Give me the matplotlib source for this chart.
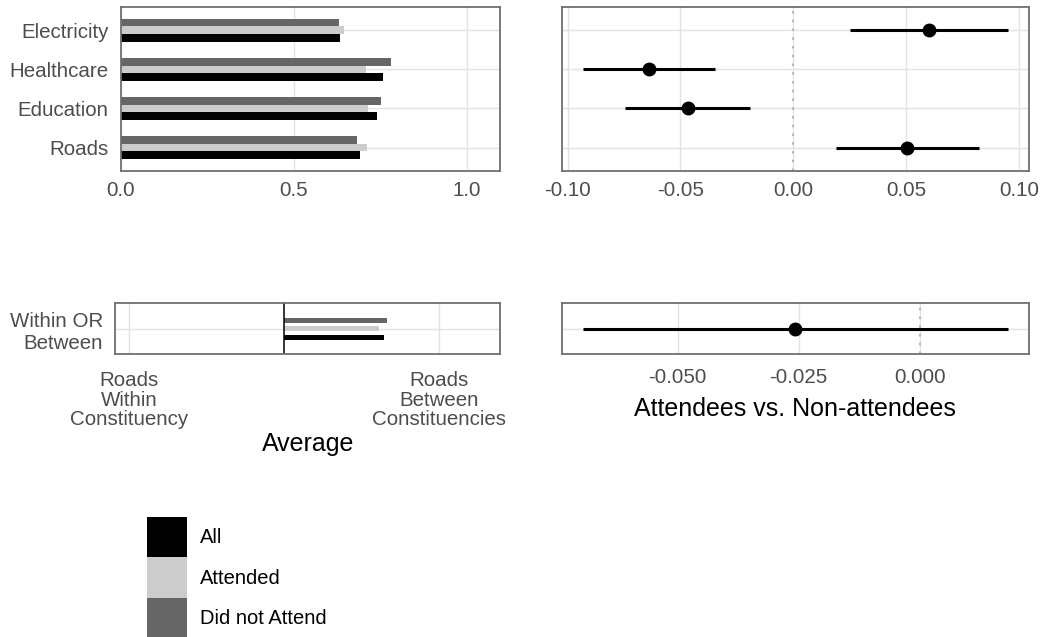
import matplotlib
matplotlib.use("Agg")
import matplotlib.pyplot as plt
from matplotlib.patches import Patch
import numpy as np

plt.rcParams['font.family'] = ['Liberation Sans', 'DejaVu Sans']
plt.rcParams['axes.unicode_minus'] = False

# data (top to bottom)
categories = ['Electricity', 'Healthcare', 'Education', 'Roads']
all_vals = [0.634, 0.756, 0.740, 0.691]
attended = [0.645, 0.709, 0.714, 0.711]
not_attended = [0.629, 0.779, 0.752, 0.681]

diff_est = [0.0602, -0.0640, -0.0467, 0.0504]
diff_lo = [0.0251, -0.0932, -0.0745, 0.0189]
diff_hi = [0.0951, -0.0346, -0.0192, 0.0822]

roads_labels = ['Roads\nWithin\nConstituency', 'Roads\nBetween\nConstituencies']
roads_row = 'Within OR\nBetween'
roads_all = 0.823
roads_attended = 0.807
roads_not = 0.833
roads_mid = 0.5

roads_diff = -0.0258
roads_diff_lo = -0.0695
roads_diff_hi = 0.0181

legend_labels = ['All', 'Attended', 'Did not Attend']
c_all, c_att, c_not = '#000000', '#CCCCCC', '#666666'

tick_col = '#4D4D4D'
grid_col = '#E3E3E3'
border_col = '#707070'
fs_tick = 14.8
fs_title = 18


def style(ax, xpad=7):
    for s in ax.spines.values():
        s.set_color(border_col)
        s.set_linewidth(1.3)
    ax.tick_params(length=0, colors=tick_col, labelsize=fs_tick)
    ax.tick_params(axis='y', pad=9)
    ax.tick_params(axis='x', pad=xpad)
    ax.grid(True, color=grid_col, lw=1.0)
    ax.set_axisbelow(True)


fig = plt.figure(figsize=(10.62, 6.37), dpi=100)

# top left: averages
ax1 = fig.add_axes([0.1139, 0.7316, 0.3569, 0.2575])
y = np.arange(len(categories))[::-1]
h = 0.2
ax1.barh(y + h, not_attended, height=h, color=c_not)
ax1.barh(y, attended, height=h, color=c_att)
ax1.barh(y - h, all_vals, height=h, color=c_all)
ax1.set_yticks(y)
ax1.set_yticklabels(categories)
ax1.set_xticks([0.0, 0.5, 1.0])
ax1.set_xticklabels(['0.0', '0.5', '1.0'])
ax1.set_xlim(0, 1.095)
ax1.set_ylim(-0.6, 3.6)
style(ax1)

# top right: differences
ax2 = fig.add_axes([0.5289, 0.7316, 0.4400, 0.2575])
est = np.array(diff_est)
ax2.axvline(0, color='#B8B8B8', ls=(0, (1.2, 3)), lw=1.5, zorder=1)
ax2.errorbar(est, y, xerr=[est - np.array(diff_lo), np.array(diff_hi) - est],
             fmt='o', color='black', ms=9, elinewidth=2.2, capsize=0, zorder=3)
ax2.set_yticks(y)
ax2.set_yticklabels([])
ax2.set_xticks([-0.10, -0.05, 0.0, 0.05, 0.10])
ax2.set_xticklabels(['-0.10', '-0.05', '0.00', '0.05', '0.10'])
ax2.set_xlim(-0.1026, 0.1045)
ax2.set_ylim(-0.6, 3.6)
style(ax2)

# bottom left: roads within or between
ax3 = fig.add_axes([0.1086, 0.4438, 0.3622, 0.0801])
hb = 0.11
ax3.barh([0.2], [roads_not - roads_mid], left=roads_mid, height=hb, color=c_not)
ax3.barh([0.0], [roads_attended - roads_mid], left=roads_mid, height=hb, color=c_att)
ax3.barh([-0.2], [roads_all - roads_mid], left=roads_mid, height=hb, color=c_all)
ax3.axvline(roads_mid, color='black', lw=1.1)
ax3.set_yticks([0])
ax3.set_yticklabels([roads_row], multialignment='right')
ax3.set_xticks([0, 1])
ax3.set_xticklabels(roads_labels, linespacing=1.05)
ax3.set_xlim(-0.045, 1.196)
ax3.set_ylim(-0.6, 0.6)
style(ax3, xpad=12)
ax3.set_xlabel('Average', fontsize=fs_title, labelpad=1.5)

# bottom right: roads difference
ax4 = fig.add_axes([0.5289, 0.4438, 0.4400, 0.0801])
ax4.axvline(0, color='#B8B8B8', ls=(0, (1.2, 3)), lw=1.5, zorder=1)
ax4.errorbar([roads_diff], [0],
             xerr=[[roads_diff - roads_diff_lo], [roads_diff_hi - roads_diff]],
             fmt='o', color='black', ms=9, elinewidth=2.2, capsize=0, zorder=3)
ax4.set_yticks([0])
ax4.set_yticklabels([])
ax4.set_xticks([-0.05, -0.025, 0.0])
ax4.set_xticklabels(['-0.050', '-0.025', '0.000'])
ax4.set_xlim(-0.0739, 0.0225)
ax4.set_ylim(-0.6, 0.6)
style(ax4, xpad=10)
ax4.set_xlabel('Attendees vs. Non-attendees', fontsize=fs_title, labelpad=7)

# legend
handles = [Patch(facecolor=c, edgecolor='none') for c in (c_all, c_att, c_not)]
fig.legend(handles, legend_labels, loc='upper left', bbox_to_anchor=(0.1381, 0.1889),
           frameon=False, fontsize=14.5, handlelength=2.0, handleheight=2.72,
           labelspacing=0.0, handletextpad=0.65, borderpad=0, borderaxespad=0)

fig.savefig('out.png', dpi=100)
